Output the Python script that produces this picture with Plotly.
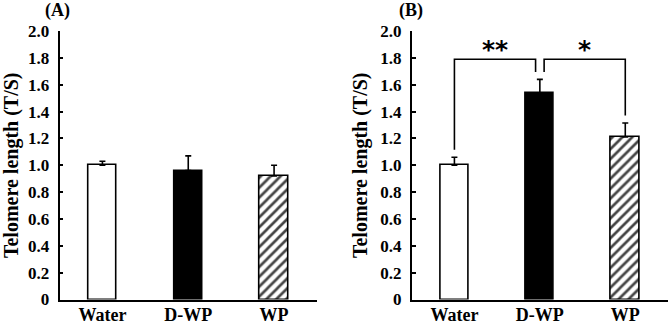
import plotly.graph_objects as go
from plotly.subplots import make_subplots

categories = ["Water", "D-WP", "WP"]
a_values = [1.00, 0.96, 0.92]
a_errors = [0.03, 0.11, 0.08]
b_values = [1.00, 1.54, 1.21]
b_errors = [0.06, 0.10, 0.105]
y_ticks = [0, 0.2, 0.4, 0.6, 0.8, 1.0, 1.2, 1.4, 1.6, 1.8, 2.0]
y_tick_labels = ["0", "0.2", "0.4", "0.6", "0.8", "1.0", "1.2", "1.4", "1.6", "1.8", "2.0"]
panel_labels = ["(A)", "(B)"]
y_title = "Telomere length (T/S)"
sig_marks = ["**", "*"]
bracket_level = 1.79
bracket_gap = 0.055

FONT = "Liberation Serif"
xpos = list(range(len(categories)))

fig = make_subplots(rows=1, cols=2)

def bar_traces(values, errors, row, col):
    colors = ["white", "black", "white"]
    shapes = ["", "", "/"]
    fig.add_trace(go.Bar(
        x=xpos, y=values, width=0.33,
        marker=dict(color=colors, line=dict(color="black", width=1.6),
                    pattern=dict(shape=shapes, fgcolor="black", bgcolor="white",
                                 fgopacity=1, size=7, solidity=0.38, fillmode="overlay")),
        error_y=dict(type="data", array=errors, arrayminus=[0] * len(errors),
                     symmetric=False, color="black", thickness=1.6, width=3),
        showlegend=False, hoverinfo="skip"), row=row, col=col)

bar_traces(a_values, a_errors, 1, 1)
bar_traces(b_values, b_errors, 1, 2)

# significance brackets for panel B
tops = [v + e + bracket_gap for v, e in zip(b_values, b_errors)]
left_x = [0, 0, 1 - 0.05, 1 - 0.05]
left_y = [tops[0], bracket_level, bracket_level, tops[1]]
right_x = [1 + 0.05, 1 + 0.05, 2, 2]
right_y = [tops[1], bracket_level, bracket_level, tops[2]]
for bx, by in [(left_x, left_y), (right_x, right_y)]:
    fig.add_trace(go.Scatter(x=bx, y=by, mode="lines",
                             line=dict(color="black", width=1.6),
                             showlegend=False, hoverinfo="skip"), row=1, col=2)

for sx, mark in [((left_x[0] + left_x[2]) / 2, sig_marks[0]),
                 ((right_x[0] + right_x[2]) / 2, sig_marks[1])]:
    fig.add_annotation(x=sx, y=bracket_level, yshift=10,
                       text=mark, showarrow=False, xref="x2", yref="y2",
                       font=dict(family="DejaVu Sans", size=25, color="black", weight="bold"))

xdoms = [[59.5 / 669, 317 / 669], [411.7 / 669, 668 / 669]]
ydom = [1 - 299.5 / 325, 1 - 31 / 325]
for i, key in enumerate(["", "2"]):
    fig.layout["xaxis" + key].update(
        domain=xdoms[i], range=[-0.5, 2.5], tickvals=xpos, ticktext=categories,
        showline=True, linecolor="black", linewidth=1.6, ticks="", showgrid=False,
        zeroline=False, automargin=False, ticklabelstandoff=-2,
        tickfont=dict(family=FONT, size=18, color="black", weight="bold"))
    fig.layout["yaxis" + key].update(
        domain=ydom, range=[0, 2.0], tickvals=y_ticks, ticktext=y_tick_labels,
        showline=True, linecolor="black", linewidth=1.6, ticks="inside", ticklen=4,
        tickwidth=1.6, tickcolor="black", showgrid=False, zeroline=False,
        automargin=False, ticklabelstandoff=5,
        tickfont=dict(family=FONT, size=17, color="black", weight="bold"),
        title=dict(text=y_title, standoff=7,
                   font=dict(family=FONT, size=20, color="black", weight="bold")))
    fig.add_annotation(x=[57.5, 410.5][i] / 669, y=1 - 10 / 325, xref="paper", yref="paper",
                       xanchor="center", yanchor="middle",
                       text=panel_labels[i], showarrow=False,
                       font=dict(family=FONT, size=18, color="black", weight="bold"))

fig.update_layout(width=669, height=325, margin=dict(l=0, r=0, t=0, b=0),
                  plot_bgcolor="white", paper_bgcolor="white", bargap=0)
fig.write_html("out.html", config={"displayModeBar": False},
               post_script="document.body.style.margin='0px';")
